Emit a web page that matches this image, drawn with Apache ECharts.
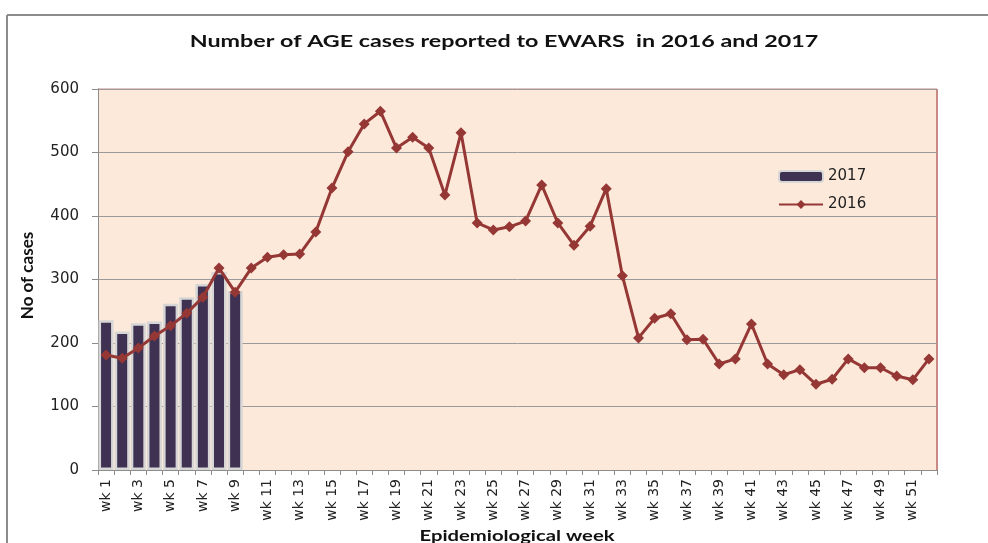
<!DOCTYPE html>
<html>
<head>
<meta charset="utf-8">
<script src="https://cdn.jsdelivr.net/npm/echarts@6/dist/echarts.min.js"></script>
<style>
  html, body { margin: 0; padding: 0; background: #fff; }
  #chart { width: 988px; height: 543px; }
</style>
</head>
<body>
<div id="chart"></div>
<script>
// weeks wk 1 .. wk 52
const weeks = []
for (let i = 1; i <= 52; i++) weeks.push('wk ' + i)

// 2017 only has the first 9 weeks
const cases2017 = [236, 218, 231, 234, 262, 272, 293, 312, 282]

const cases2016 = [
  181, 176, 192, 211, 227, 247, 272, 318, 280, 318,
  335, 339, 340, 375, 444, 501, 545, 565, 507, 524,
  507, 433, 531, 389, 378, 383, 392, 449, 389, 354,
  384, 443, 306, 208, 239, 246, 205, 206, 167, 175,
  230, 167, 150, 158, 135, 143, 175, 161, 161, 148,
  142, 175
]

const yTicks = [0, 100, 200, 300, 400, 500, 600]

var chart = echarts.init(document.getElementById('chart'))

chart.setOption({
  animation: false,
  backgroundColor: '#fff',
  graphic: [
    // outer frame, only top and left are visible in the picture
    { type: 'line', shape: { x1: 7, y1: 15, x2: 988, y2: 15 }, style: { stroke: '#8c8c8c', lineWidth: 2 } },
    { type: 'line', shape: { x1: 7, y1: 15, x2: 7, y2: 543 }, style: { stroke: '#8c8c8c', lineWidth: 2 } },
    // reddish plot border on top and right
    { type: 'line', shape: { x1: 98, y1: 89, x2: 937, y2: 89 }, style: { stroke: '#c98a85', lineWidth: 1 } },
    { type: 'line', shape: { x1: 937, y1: 89, x2: 937, y2: 470 }, style: { stroke: '#c98a85', lineWidth: 2 } },
    // the picture is stretched sideways, so the title text is too
    {
      type: 'text', x: 504, y: 42, scaleX: 1.37, z: 10,
      style: {
        text: 'Number of AGE cases reported to EWARS  in 2016 and 2017',
        fontFamily: 'Lato', fontWeight: 'bold', fontSize: 17, fill: '#111',
        align: 'center', verticalAlign: 'middle'
      }
    },
    {
      type: 'text', x: 517, y: 536, scaleX: 1.35, z: 10,
      style: {
        text: 'Epidemiological week',
        fontFamily: 'Lato', fontWeight: 'bold', fontSize: 15, fill: '#111',
        align: 'center', verticalAlign: 'middle'
      }
    }
  ],
  legend: {
    left: 773,
    top: 164,
    orient: 'vertical',
    itemGap: 13,
    itemWidth: 44,
    itemHeight: 11,
    textStyle: { fontFamily: 'DejaVu Sans', fontSize: 15, color: '#222' },
    data: ['2017', '2016']
  },
  grid: {
    left: 98,
    right: 51,
    top: 89,
    bottom: 73,
    containLabel: false,
    outerBoundsMode: 'none',
    show: true,
    backgroundColor: '#fde9d9',
    borderWidth: 0
  },
  xAxis: {
    type: 'category',
    data: weeks,
    axisLine: { lineStyle: { color: '#8c8c8c' } },
    axisTick: { show: true, alignWithLabel: false, interval: 0, length: 5, lineStyle: { color: '#8c8c8c' } },
    axisLabel: {
      interval: 1,
      rotate: 90,
      margin: 9,
      fontFamily: 'DejaVu Sans',
      fontSize: 14,
      color: '#222'
    }
  },
  yAxis: {
    type: 'value',
    min: yTicks[0],
    max: yTicks[yTicks.length - 1],
    interval: 100,
    name: 'No of cases',
    nameLocation: 'middle',
    nameGap: 62,
    nameTextStyle: { fontFamily: 'Lato', fontWeight: 'bold', fontSize: 17, color: '#111', padding: [0, 0, 0, 8] },
    axisLine: { show: true, lineStyle: { color: '#8c8c8c' } },
    axisTick: { show: true, inside: false, length: 6, lineStyle: { color: '#8c8c8c' } },
    axisLabel: { fontFamily: 'DejaVu Sans', fontSize: 15, color: '#222', margin: 19 },
    splitLine: { lineStyle: { color: '#9a9a9a', width: 1 } }
  },
  series: [
    {
      name: '2017',
      type: 'bar',
      data: cases2017,
      barWidth: 15,
      itemStyle: { color: '#3f3151', borderColor: '#d6d6d6', borderWidth: 2.5 },
      z: 2
    },
    {
      name: '2016',
      type: 'line',
      data: cases2016,
      symbol: 'diamond',
      symbolSize: 11,
      showAllSymbol: true,
      itemStyle: { color: '#953735' },
      lineStyle: { color: '#953735', width: 3 },
      z: 3
    }
  ]
})
</script>
</body>
</html>
